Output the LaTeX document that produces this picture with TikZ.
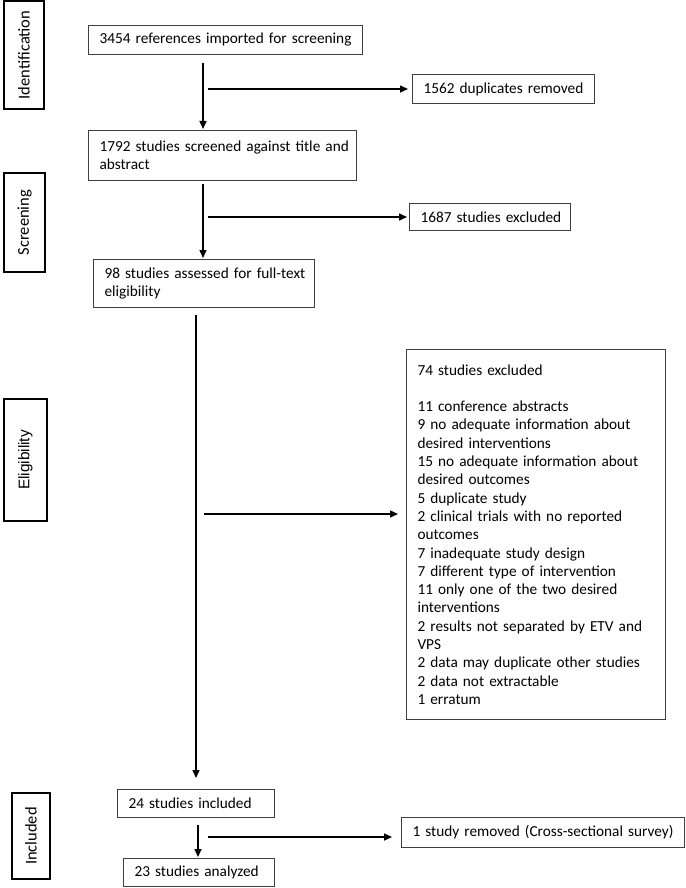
\documentclass[tikz,border=0pt]{standalone}
\usepackage{fontspec}
\setmainfont{Carlito}
\newfontfamily\arialfont{Liberation Sans}
\usetikzlibrary{arrows.meta}
\begin{document}
\begin{tikzpicture}[x=1pt,y=-1pt,
  box/.style={draw=black!75, line width=1pt, anchor=north west, inner xsep=11pt, inner ysep=0pt, align=left, font=\fontsize{15.3}{18.3}\selectfont},
  side/.style={draw=black, line width=1.8pt, rotate=90, inner sep=0pt, font=\fontsize{16.5}{18}\selectfont},
  arr/.style={line width=1.5pt, -{Triangle[length=8pt,width=7pt]}}]
\useasboundingbox (0,0) rectangle (685,888);

% stage labels
\node[side, minimum width=108pt, minimum height=40pt] (id) at (24,55) {Identification};
\node[side, minimum width=99pt, minimum height=41pt] (sc) at (24.5,222.5) {Screening};
\node[side, minimum width=122pt, minimum height=43pt, font=\arialfont\fontsize{15.4}{18}\selectfont] (el) at (25.5,460) {Eligibility};
\node[side, minimum width=86pt, minimum height=38pt] (in) at (31,836) {Included};

% boxes
\node[box, text width=252pt, minimum height=29pt] (b1) at (88,25) {\mbox{3454 references imported for screening}};
\node[box, text width=160pt, minimum height=29pt] (dup) at (412,74) {\mbox{1562 duplicates removed}};
\node[box, text width=246pt, minimum height=50pt] (b2) at (88,130) {\mbox{1792 studies screened against title and}\\abstract};
\node[box, text width=139pt, minimum height=27pt] (ex1) at (409,203) {\mbox{1687 studies excluded}};
\node[box, text width=199pt, minimum height=48pt] (b3) at (93,259) {\mbox{98 studies assessed for full-text}\\eligibility};
\node[box, text width=237pt, minimum height=370pt] (ex2) at (406,349) {\mbox{74 studies excluded}\\[18.3pt]
\mbox{11 conference abstracts}\\
\mbox{9 no adequate information about}\\
\mbox{desired interventions}\\
\mbox{15 no adequate information about}\\
\mbox{desired outcomes}\\
\mbox{5 duplicate study}\\
\mbox{2 clinical trials with no reported}\\
\mbox{outcomes}\\
\mbox{7 inadequate study design}\\
\mbox{7 different type of intervention}\\
\mbox{11 only one of the two desired}\\
\mbox{interventions}\\
\mbox{2 results not separated by ETV and}\\
\mbox{VPS}\\
\mbox{2 data may duplicate other studies}\\
\mbox{2 data not extractable}\\
\mbox{1 erratum}};
\node[box, text width=135pt, minimum height=28pt] (b4) at (117,789) {\mbox{24 studies included}};
\node[box, text width=261pt, minimum height=30pt] (b6) at (401,817) {\mbox{1 study removed (Cross-sectional survey)}};
\node[box, text width=129pt, minimum height=28pt] (b5) at (123,858) {\mbox{23 studies analyzed}};

% connectors
\coordinate (s1) at (203,63);
\draw[arr, shorten >=1pt] (s1) -- (s1 |- b2.north);
\coordinate (h1) at (208,89);
\draw[arr, shorten >=4pt] (h1) -- (h1 -| dup.west);
\coordinate (s2) at (203,184);
\draw[arr, shorten >=1pt] (s2) -- (s2 |- b3.north);
\coordinate (h2) at (208,217);
\draw[arr, shorten >=2pt] (h2) -- (h2 -| ex1.west);
\coordinate (s3) at (196,315);
\draw[arr, shorten >=11pt] (s3) -- (s3 |- b4.north);
\coordinate (h3) at (204,514);
\draw[arr, shorten >=8pt] (h3) -- (h3 -| ex2.west);
\coordinate (s4) at (198,825);
\draw[arr, shorten >=1pt] (s4) -- (s4 |- b5.north);
\coordinate (h4) at (208,837);
\draw[arr, shorten >=9pt] (h4) -- (h4 -| b6.west);
\end{tikzpicture}
\end{document}
